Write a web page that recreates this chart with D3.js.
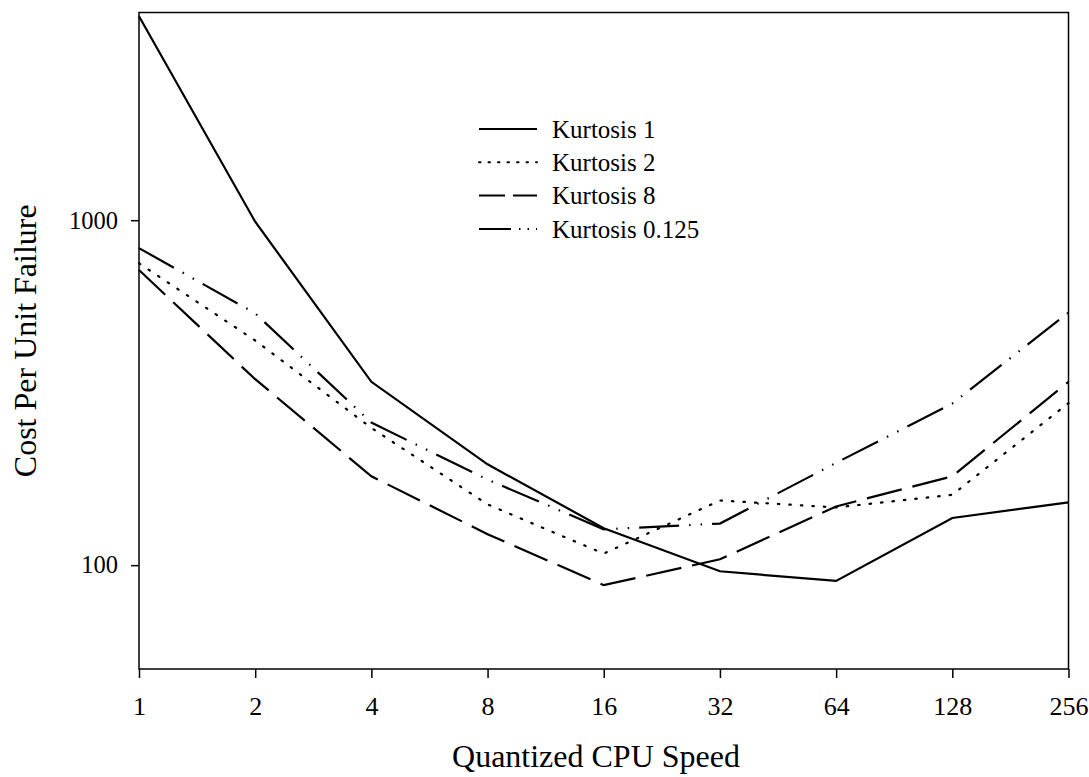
<!DOCTYPE html>
<html>
<head>
<meta charset="utf-8">
<script src="https://cdn.jsdelivr.net/npm/d3@7"></script>
<style>
    body { margin: 0; background: #fff; }
    text { font-family: "Liberation Serif", "Times New Roman", serif; fill: #000; }
</style>
</head>
<body>
<div id="chart"></div>
<script>
    "use strict";
    //data
    var cpuSpeeds = [1, 2, 4, 8, 16, 32, 64, 128, 256];
    var kurtosis1 = [3900, 990, 340, 196, 128, 96, 90, 137, 152];
    var kurtosis2 = [750, 448, 250, 150, 108, 154, 147, 160, 295];
    var kurtosis8 = [717, 346, 181, 123, 87.5, 104, 148, 181, 340];
    var kurtosis0125 = [830, 537, 259, 177, 127, 132, 198, 294, 540];
    var seriesNames = ["Kurtosis 1", "Kurtosis 2", "Kurtosis 8", "Kurtosis 0.125"];
    var yTickValues = [100, 1000];
    var yDomain = [50, 4000];

    var width = 1089, height = 777;
    var plotLeft = 139, plotRight = 1068.5, plotTop = 12.5, plotBottom = 669;

    //one dash pattern for each series, same order as seriesNames
    var dashes = ["none", "1.5,10", "36,11", "40,10,1.5,10,1.5,10"];
    var allSeries = [kurtosis1, kurtosis2, kurtosis8, kurtosis0125];

    var svg = d3.select("#chart")
        .append("svg")
        .attr("width", width)
        .attr("height", height);

    var x = d3.scaleLog().base(2).domain([1, 256]).range([plotLeft, plotRight]);
    var y = d3.scaleLog().domain(yDomain).range([plotBottom, plotTop]);

    //x axis
    var xAxis = svg.append("g")
        .attr("transform", "translate(0," + plotBottom + ")")
        .call(d3.axisBottom(x).tickValues(cpuSpeeds).tickFormat(d3.format("d")).tickSize(9).tickSizeOuter(0).tickPadding(29));
    xAxis.selectAll("text").style("font-size", "26px").attr("dy", "0.32em");

    //y axis
    var yAxis = svg.append("g")
        .attr("transform", "translate(" + plotLeft + ",0)")
        .call(d3.axisLeft(y).tickValues(yTickValues).tickFormat(d3.format("d")).tickSize(8).tickSizeOuter(0).tickPadding(13));
    yAxis.selectAll("text").style("font-size", "24.5px");

    svg.selectAll(".domain").remove();
    svg.selectAll(".tick line").attr("stroke", "#000").attr("stroke-width", 1.5);

    //frame round the plot
    svg.append("rect")
        .attr("x", plotLeft)
        .attr("y", plotTop)
        .attr("width", plotRight - plotLeft)
        .attr("height", plotBottom - plotTop)
        .style("fill", "none")
        .style("stroke", "#000")
        .style("stroke-width", 1.5);

    //lines
    var line = d3.line()
        .x(function(d, i){ return x(cpuSpeeds[i]); })
        .y(function(d){ return y(d); });

    svg.selectAll("path.series")
        .data(allSeries)
        .enter()
        .append("path")
        .attr("class", "series")
        .attr("d", line)
        .style("fill", "none")
        .style("stroke", "#000")
        .style("stroke-width", 2.2)
        .style("stroke-linecap", function(d, i){ return i === 1 ? "round" : "butt"; })
        .style("stroke-dasharray", function(d, i){ return dashes[i]; });

    //legend
    var legendX = 479, legendLineEnd = 537, legendY = 129, legendStep = 33.3;
    var legend = svg.selectAll("g.legendRow")
        .data(seriesNames)
        .enter()
        .append("g")
        .attr("class", "legendRow")
        .attr("transform", function(d, i){ return "translate(0," + (legendY + i * legendStep) + ")"; });

    var legendDashes = ["none", "1.5,8", "26,8", "32,8,1.5,7,1.5,7"];
    legend.append("line")
        .attr("x1", legendX)
        .attr("x2", legendLineEnd)
        .style("stroke", "#000")
        .style("stroke-width", 2)
        .style("stroke-linecap", function(d, i){ return i === 1 ? "round" : "butt"; })
        .style("stroke-dasharray", function(d, i){ return legendDashes[i]; });

    legend.append("text")
        .attr("x", 552)
        .attr("dy", "0.35em")
        .style("font-size", "25px")
        .text(function(d){ return d; });

    //axis titles
    svg.append("text")
        .attr("x", 596)
        .attr("y", 767)
        .attr("text-anchor", "middle")
        .style("font-size", "32px")
        .text("Quantized CPU Speed");

    svg.append("text")
        .attr("transform", "translate(25," + ((plotTop + plotBottom) / 2) + ") rotate(-90)")
        .attr("dy", "0.35em")
        .attr("text-anchor", "middle")
        .style("font-size", "32px")
        .text("Cost Per Unit Failure");
</script>
</body>
</html>
